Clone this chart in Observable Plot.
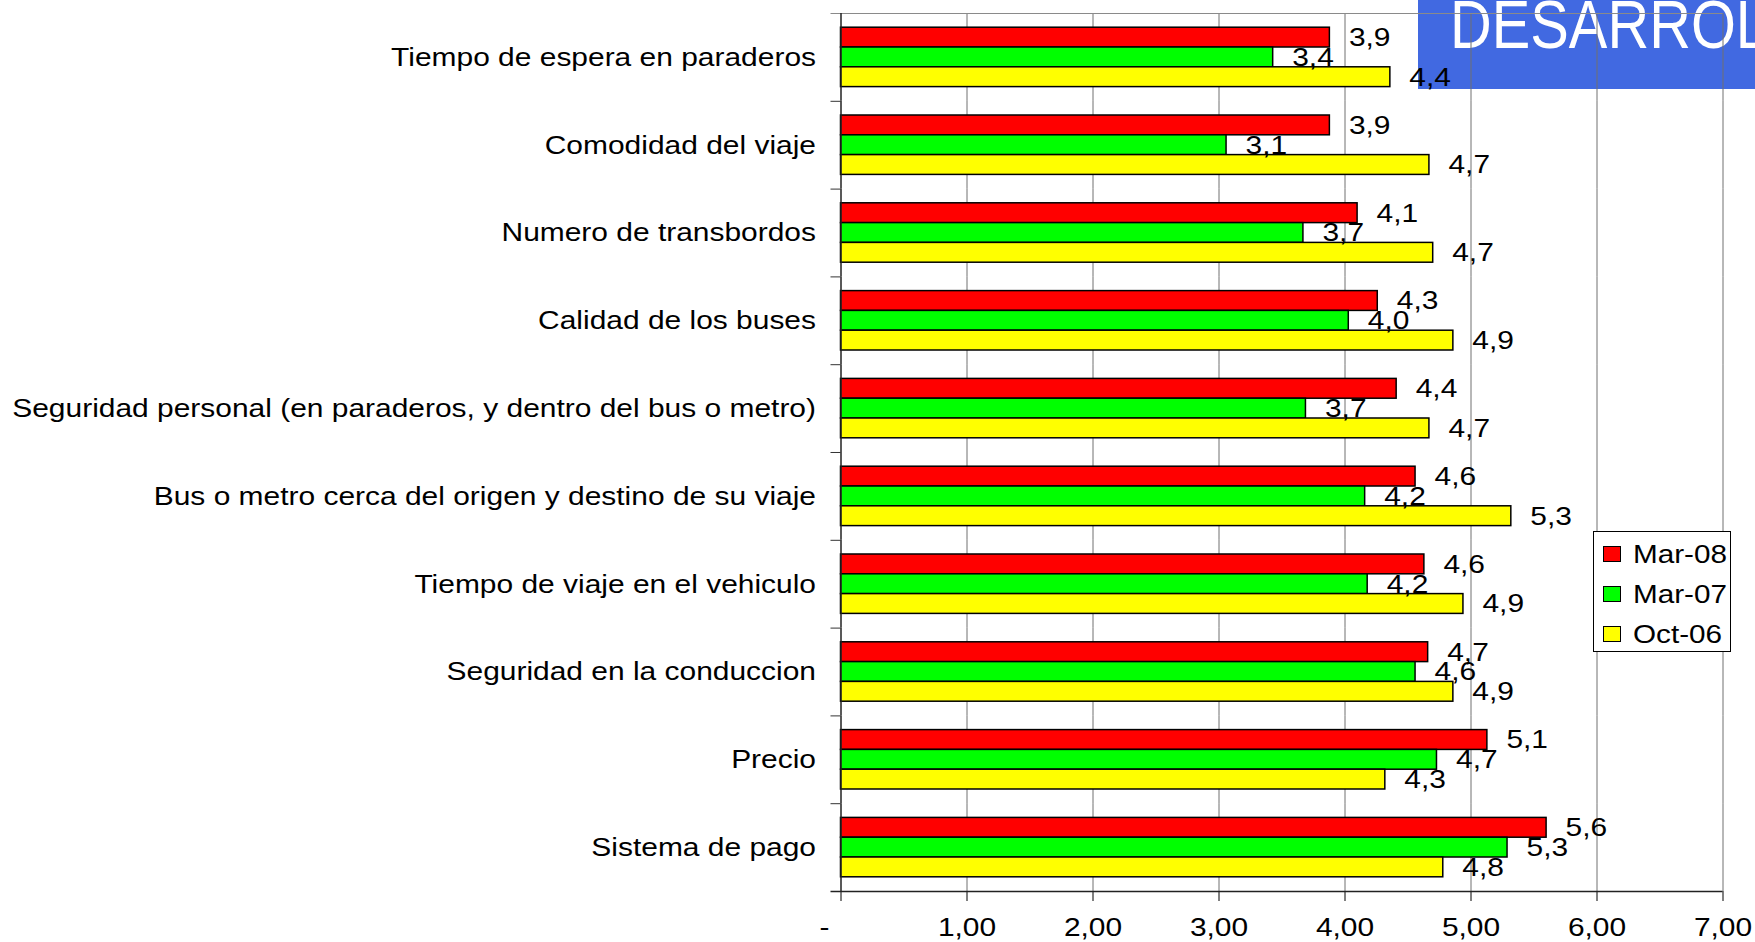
<!DOCTYPE html>
<html><head><meta charset="utf-8">
<script src="https://cdn.jsdelivr.net/npm/d3@7"></script>
<script src="https://cdn.jsdelivr.net/npm/@observablehq/plot@0.6"></script>
<style>
html,body{margin:0;padding:0;background:#fff;overflow:hidden;}
#wrap{position:relative;width:1755px;height:942px;}
#logo{position:absolute;left:1418px;top:0;width:337px;height:89px;background:#4169e1;overflow:hidden;z-index:0;}
#logo span{position:absolute;left:32px;top:-10.5px;font-size:68px;line-height:68px;font-family:"Liberation Sans",Arial,sans-serif;color:#fff;white-space:nowrap;transform:scaleX(0.85);transform-origin:left center;}
#chart{position:absolute;left:0;top:0;z-index:1;}
#legend{position:absolute;left:1593px;top:531px;width:136px;height:119px;border:1px solid #000;background:#fff;z-index:2;font-family:"Liberation Sans",Arial,sans-serif;}
#legend .row{position:absolute;left:0;height:30px;width:136px;}
#legend .sw{position:absolute;left:9px;top:7px;width:16px;height:14px;border:1px solid #000;}
#legend .lb{position:absolute;left:39px;top:0;font-size:26.5px;line-height:30px;transform:scaleX(1.12);transform-origin:left center;white-space:nowrap;}
</style></head>
<body>
<div id="wrap">
  <div id="logo"><span>DESARROLLO</span></div>
  <div id="chart"></div>
  <div id="legend"></div>
</div>
<script>
const categories = [
  "Tiempo de espera en paraderos",
  "Comodidad del viaje",
  "Numero de transbordos",
  "Calidad de los buses",
  "Seguridad personal (en paraderos, y dentro del bus o metro)",
  "Bus o metro cerca del origen y destino de su viaje",
  "Tiempo de viaje en el vehiculo",
  "Seguridad en la conduccion",
  "Precio",
  "Sistema de pago"
];
const series = ["Mar-08", "Mar-07", "Oct-06"];
const mar08 = [3.88, 3.88, 4.10, 4.26, 4.41, 4.56, 4.63, 4.66, 5.13, 5.60];
const mar07 = [3.43, 3.06, 3.67, 4.03, 3.69, 4.16, 4.18, 4.56, 4.73, 5.29];
const oct06 = [4.36, 4.67, 4.70, 4.86, 4.67, 5.32, 4.94, 4.86, 4.32, 4.78];
const colors = ["#ff0000", "#00ff00", "#ffff00"];
const xTicks = [0, 1, 2, 3, 4, 5, 6, 7];

const valuesBySeries = [mar08, mar07, oct06];
const data = [];
categories.forEach((c, i) => series.forEach((s, j) => data.push({cat: c, series: s, value: valuesBySeries[j][i]})));

const FS = 26.5, SX = 1.13;
const W = 1755, H = 942;
const mTop = 13, mBottom = 51, mLeft = 840.5, mRight = 32.5;
const step = (H - mTop - mBottom) / categories.length;
const barH = 19.8;
const po = (step / barH - 3) / 2;
const edge = step / 2 - barH; // offset from outer bar centre to facet edge

const comma1 = v => d3.format(".1f")(v).replace(".", ",");
const tickFmt = v => v === 0 ? "-\u00a0\u00a0\u00a0\u00a0" : d3.format(".2f")(v).replace(".", ",");

const plot = Plot.plot({
  width: W, height: H,
  marginTop: mTop, marginBottom: mBottom, marginLeft: mLeft, marginRight: mRight,
  style: {background: "transparent", fontFamily: "'Liberation Sans', Arial, sans-serif", fontSize: FS + "px", color: "#000"},
  x: {domain: [0, 7], ticks: xTicks, tickFormat: tickFmt, tickSize: 10, tickPadding: 16, label: null},
  y: {domain: series, axis: null, paddingInner: 0, paddingOuter: po, round: false},
  fy: {domain: categories, padding: 0, round: false, tickSize: 0, tickPadding: 25, label: null},
  color: {domain: series, range: colors},
  marks: [
    Plot.ruleX(xTicks.filter(d => d > 0), {stroke: "#707070", strokeWidth: 1}),
    Plot.ruleY([categories[0]], {fy: d => d, y: () => series[0], x1: 0, x2: 7, insetLeft: -10, dy: -edge, stroke: "#8a8a8a", strokeWidth: 1.2}),
    Plot.ruleY(categories.slice(1), {fy: d => d, y: () => series[0], x1: 0, x2: 0, insetLeft: -10, dy: -edge, stroke: "#333", strokeWidth: 1}),
    Plot.ruleY([categories[categories.length - 1]], {fy: d => d, y: () => series[2], x1: 0, x2: 7, insetLeft: -10, dy: edge, stroke: "#222", strokeWidth: 1.5}),
    Plot.barX(data, {fy: "cat", y: "series", x: "value", fill: "series", stroke: "#000", strokeWidth: 1.5}),
    Plot.ruleX([0], {stroke: "#222", strokeWidth: 1.5}),
    Plot.text(data, {fy: "cat", y: "series", x: "value", text: d => comma1(d.value), textAnchor: "start", dx: 19, fill: "#000", fontSize: FS})
  ]
});
document.getElementById("chart").appendChild(plot);

// horizontally stretch all texts about their anchor, as in the reference
plot.querySelectorAll("text").forEach(t => {
  const tr = t.getAttribute("transform");
  if (tr) t.setAttribute("transform", tr + ` scale(${SX},1)`);
  else {
    const x = +(t.getAttribute("x") || 0), y = +(t.getAttribute("y") || 0);
    t.removeAttribute("x"); t.removeAttribute("y");
    t.setAttribute("transform", `translate(${x},${y}) scale(${SX},1)`);
  }
});

// legend
const legend = document.getElementById("legend");
series.forEach((s, j) => {
  const row = document.createElement("div");
  row.className = "row";
  row.style.top = (7 + j * 40) + "px";
  row.innerHTML = `<div class="sw" style="background:${colors[j]}"></div><div class="lb">${s}</div>`;
  legend.appendChild(row);
});
</script>
</body></html>
